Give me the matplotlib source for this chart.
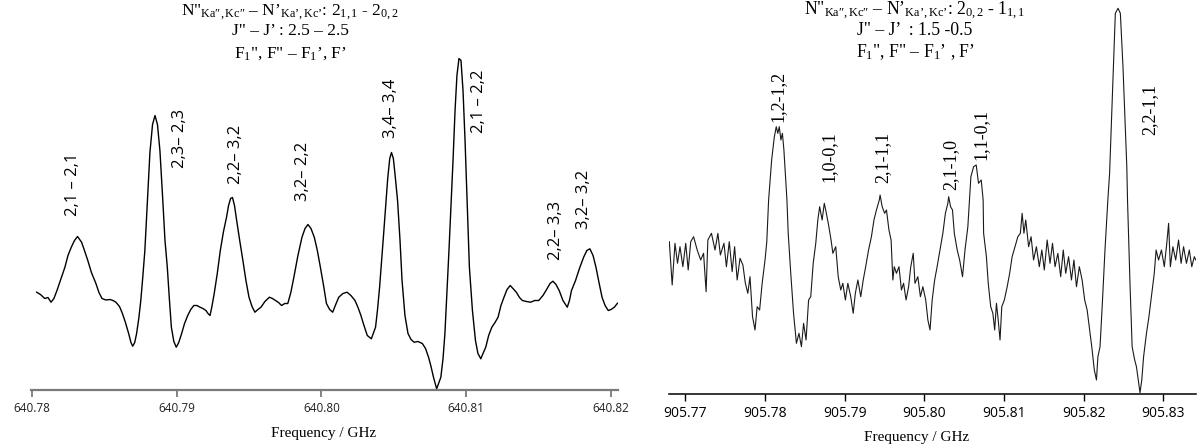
import matplotlib
matplotlib.use("Agg")
import matplotlib.pyplot as plt

plt.rcParams['mathtext.fontset'] = 'custom'
plt.rcParams['mathtext.rm'] = 'Liberation Serif'
plt.rcParams['mathtext.it'] = 'Liberation Serif:italic'
plt.rcParams['mathtext.bf'] = 'Liberation Serif:bold'

# ---------------- data: left spectrum (GHz, arbitrary intensity) ----------------
left_freq = [
    640.78034, 640.78060, 640.78090, 640.78112, 640.78133, 640.78153, 640.78174, 640.78202,
    640.78229, 640.78250, 640.78273, 640.78295, 640.78316, 640.78344, 640.78364, 640.78387,
    640.78412, 640.78443, 640.78464, 640.78485, 640.78512, 640.78540, 640.78561, 640.78581,
    640.78606, 640.78626, 640.78647, 640.78669, 640.78685, 640.78697, 640.78711, 640.78724,
    640.78739, 640.78753, 640.78767, 640.78781, 640.78799, 640.78816, 640.78834, 640.78851,
    640.78868, 640.78885, 640.78903, 640.78920, 640.78936, 640.78950, 640.78964, 640.78981,
    640.78998, 640.79015, 640.79035, 640.79055, 640.79077, 640.79098, 640.79119, 640.79141,
    640.79162, 640.79182, 640.79203, 640.79217, 640.79231, 640.79244, 640.79260, 640.79281,
    640.79302, 640.79324, 640.79345, 640.79359, 640.79373, 640.79386, 640.79400, 640.79415,
    640.79436, 640.79458, 640.79479, 640.79500, 640.79521, 640.79541, 640.79562, 640.79583,
    640.79610, 640.79641, 640.79662, 640.79683, 640.79704, 640.79725, 640.79747, 640.79768,
    640.79789, 640.79810, 640.79838, 640.79866, 640.79887, 640.79907, 640.79928, 640.79951,
    640.79972, 640.79993, 640.80015, 640.80035, 640.80057, 640.80078, 640.80099, 640.80120,
    640.80149, 640.80177, 640.80204, 640.80232, 640.80253, 640.80273, 640.80294, 640.80317,
    640.80345, 640.80374, 640.80387, 640.80402, 640.80416, 640.80430, 640.80444, 640.80458,
    640.80472, 640.80484, 640.80497, 640.80510, 640.80526, 640.80543, 640.80557, 640.80577,
    640.80598, 640.80619, 640.80640, 640.80667, 640.80697, 640.80719, 640.80740, 640.80757,
    640.80774, 640.80796, 640.80812, 640.80825, 640.80840, 640.80853, 640.80867, 640.80881,
    640.80895, 640.80909, 640.80923, 640.80936, 640.80950, 640.80964, 640.80978, 640.80992,
    640.81006, 640.81022, 640.81043, 640.81064, 640.81081, 640.81101, 640.81116, 640.81135,
    640.81155, 640.81177, 640.81199, 640.81220, 640.81240, 640.81261, 640.81282, 640.81304,
    640.81323, 640.81346, 640.81368, 640.81388, 640.81416, 640.81445, 640.81473, 640.81501,
    640.81530, 640.81558, 640.81579, 640.81599, 640.81620, 640.81642, 640.81668, 640.81698,
    640.81713, 640.81727, 640.81755, 640.81782, 640.81811, 640.81833, 640.81854, 640.81876,
    640.81896, 640.81917, 640.81938, 640.81959, 640.81981, 640.82000, 640.82023, 640.82045,
]
left_int = [
    97.3, 95, 91, 92, 87.3, 91, 99, 111,
    122.3, 134, 142.3, 149, 153, 147.3, 139, 129,
    117, 106, 97, 91, 89.5, 90, 89, 87.3,
    83, 76, 67, 56, 47, 43.3, 47, 56,
    71, 89, 113, 139, 189, 237, 265, 274,
    265, 239, 194, 149, 122.3, 91, 62.3, 48,
    42.3, 47, 56, 66, 74, 80, 84, 84,
    82.3, 81, 79, 76, 74, 83, 96, 116,
    139, 158, 172.3, 184, 191, 192, 184, 169,
    149, 129, 109, 92.3, 83, 77.3, 80, 82.3,
    88, 92.3, 91, 89, 87, 84, 86, 86,
    97, 112.3, 134, 152.3, 161, 165, 161, 152.3,
    139, 122.3, 104, 86, 80, 77.3, 85, 92.3,
    96, 97.3, 94, 89, 82, 74, 64, 54,
    50.7, 62.3, 79, 102.3, 129, 156, 184, 211,
    231, 237, 231, 213, 189, 149, 109, 74,
    56, 50, 47.3, 48, 46, 41, 32.3, 23,
    12.3, 0.7, 7, 12.3, 31, 56, 97, 139,
    184, 229, 279, 314, 331, 329, 299, 249,
    189, 122.3, 79, 49, 36, 30.7, 36, 42.3,
    54, 62.3, 67, 72.3, 84, 92.3, 100, 104,
    101, 97.3, 92, 89, 88, 87.3, 89, 89,
    94, 100.7, 106, 108.3, 105, 99, 89, 82.3,
    89, 99, 109, 121, 132.3, 139, 140.7, 134,
    122.3, 107, 92.3, 84, 79, 80, 82.3, 86.3,
]

# ---------------- data: right spectrum ----------------
right_freq = [
    905.76798, 905.76834, 905.76869, 905.76901, 905.76932, 905.76968, 905.77004, 905.77035,
    905.77067, 905.77103, 905.77148, 905.77192, 905.77228, 905.77260, 905.77282, 905.77327,
    905.77372, 905.77408, 905.77439, 905.77484, 905.77515, 905.77551, 905.77587, 905.77618,
    905.77650, 905.77686, 905.77722, 905.77753, 905.77784, 905.77811, 905.77843, 905.77874,
    905.77901, 905.77932, 905.77964, 905.78000, 905.78022, 905.78045,
    905.78083, 905.78117, 905.78141, 905.78160, 905.78179, 905.78199, 905.78218, 905.78237,
    905.78275, 905.78291, 905.78323, 905.78358, 905.78394, 905.78426, 905.78457, 905.78484,
    905.78515, 905.78547, 905.78574, 905.78605, 905.78637, 905.78663, 905.78686, 905.78717,
    905.78744, 905.78762, 905.78798, 905.78829, 905.78852, 905.78888, 905.78919, 905.78951,
    905.78977, 905.79009, 905.79040, 905.79076, 905.79107, 905.79134, 905.79166, 905.79202,
    905.79233, 905.79264, 905.79300, 905.79336, 905.79368, 905.79399, 905.79435, 905.79445,
    905.79471, 905.79502, 905.79525, 905.79556, 905.79583, 905.79605, 905.79623, 905.79650,
    905.79682, 905.79713, 905.79740, 905.79771, 905.79803, 905.79830, 905.79861, 905.79883,
    905.79919, 905.79951, 905.79982, 905.80018, 905.80045, 905.80072, 905.80099, 905.80130,
    905.80161, 905.80197, 905.80233, 905.80265, 905.80296, 905.80306, 905.80330, 905.80354,
    905.80377, 905.80413, 905.80444, 905.80480, 905.80511, 905.80547, 905.80585, 905.80619,
    905.80652, 905.80681, 905.80715, 905.80739, 905.80745, 905.80780, 905.80803, 905.80834,
    905.80861, 905.80884, 905.80906, 905.80928, 905.80951, 905.80973, 905.81005, 905.81041,
    905.81072, 905.81103, 905.81139, 905.81175, 905.81206, 905.81229, 905.81251, 905.81274,
    905.81310, 905.81341, 905.81372, 905.81408, 905.81444, 905.81476, 905.81507, 905.81543,
    905.81579, 905.81610, 905.81642, 905.81677, 905.81713, 905.81745, 905.81776, 905.81812,
    905.81848, 905.81879, 905.81911, 905.81947, 905.81982, 905.82014, 905.82045, 905.82072,
    905.82103, 905.82135, 905.82162, 905.82180, 905.82207, 905.82238, 905.82269, 905.82305,
    905.82327, 905.82375, 905.82399, 905.82433, 905.82462, 905.82495, 905.82543, 905.82552,
    905.82583, 905.82610, 905.82642, 905.82664, 905.82687, 905.82709, 905.82731, 905.82754,
    905.82790, 905.82821, 905.82852, 905.82888, 905.82911, 905.82942, 905.82978, 905.83014,
    905.83045, 905.83068, 905.83090, 905.83122, 905.83157, 905.83193, 905.83225, 905.83256,
    905.83292, 905.83328, 905.83359, 905.83391, 905.83410,
]
right_int = [
    152.3, 109, 150.7, 130.7, 147.3, 127.3, 150.7, 124,
    152.3, 157.3, 144, 134, 140.7, 102.3, 154, 160.7,
    144, 160.7, 139, 150.7, 127.3, 152.3, 122.3, 147.3,
    114, 135.7, 129, 110.7, 100.7, 117.3, 77.3, 64,
    87.3, 84, 110.7, 134, 152.3, 194,
    234, 257.3, 267.3, 260.7, 267.3, 254, 260.7, 244,
    194, 160.7, 120.7, 80.7, 50.7, 60.7, 47.3, 70.7,
    54, 94, 97.3, 130.7, 150.7, 174, 187.3, 174,
    190.7, 184, 169, 154, 140.7, 147.3, 117.3, 104,
    110.7, 94, 110.7, 97.3, 80.7, 100.7, 114, 97.3,
    114, 127.3, 144, 157.3, 174, 184, 194, 199,
    187.3, 180.7, 184, 164, 154, 114, 127.3, 120.7,
    127.3, 104, 110.7, 94, 107.3, 127.3, 140.7, 110.7,
    117.3, 97.3, 107.3, 94, 74, 64, 94, 114,
    127.3, 144, 160.7, 180.7, 190.7, 197.3, 187.3, 184,
    160.7, 144, 134, 117.3, 144, 167.3, 217.3, 227.3,
    229, 210.7, 214, 194, 160.7, 137.3, 110.7, 87.3,
    80.7, 64, 90.7, 74, 54, 87.3, 94, 107.3,
    120.7, 137.3, 147.3, 157.3, 160.7, 180.7, 160.7, 174,
    147.3, 157.3, 134, 147.3, 127.3, 144, 124, 154,
    130.7, 150.7, 127.3, 140.7, 117.3, 144, 120.7, 137.3,
    114, 134, 107.3, 127.3, 114, 94, 84, 67.3,
    47.3, 24, 14, 37.3, 47.3, 94, 144, 194,
    220.7, 327.3, 380.7, 385.7, 380.7, 327.3, 227.3, 194,
    110.7, 47.3, 34, 27.3, 14, 1.3, 14, 37.3,
    60.7, 77.3, 97.3, 120.7, 144, 134, 144, 127.3,
    150.7, 170.7, 127.3, 147.3, 134, 154, 130.7, 147.3,
    130.7, 144, 127.3, 137.3, 134,
]

# ---------------- labels ----------------
left_ticks = [640.78, 640.79, 640.80, 640.81, 640.82]
left_ticklabels = ["640.78", "640.79", "640.80", "640.81", "640.82"]
right_ticks = [905.77, 905.78, 905.79, 905.80, 905.81, 905.82, 905.83]
right_ticklabels = ["905.77", "905.78", "905.79", "905.80", "905.81", "905.82", "905.83"]

left_peak_labels = ["2,1 \u2013 2,1", "2,3\u2013 2,3", "2,2\u2013 3,2", "3,2\u2013 2,2",
                    "3,4\u2013 3,4", "2,1 \u2013 2,2", "2,2\u2013 3,3", "3,2\u2013 3,2"]
left_label_freq = [640.78285, 640.79023, 640.79410, 640.79873,
                   640.80481, 640.81088, 640.81620, 640.81814]
left_label_int = [174, 222, 206, 189, 251, 257, 129, 161]

right_peak_labels = ["1,2-1,2", "1,0-0,1", "2,1-1,1", "2,1-1,0", "1,1-0,1", "2,2-1,1"]
right_label_freq = [905.78163, 905.78803, 905.79482, 905.80335, 905.80712, 905.82834]
right_label_int = [272, 212, 211, 204, 234, 259]

DP = "\u2033"   # double prime (inside math)
SQ = "\u2019"   # single quote mark
left_title = ['N"$_{\\rm Ka' + DP + ',Kc' + DP + '}$ \u2013 N' + SQ
              + '$_{\\rm Ka' + SQ + ',Kc' + SQ + '}$: 2$_{1,1}$ - 2$_{0,2}$',
              'J" \u2013 J' + SQ + ' : 2.5 \u2013 2.5',
              'F$_1$", F" \u2013 F$_1$' + SQ + ', F' + SQ]
right_title = ['N"$_{\\rm Ka' + DP + ',Kc' + DP + '}$ \u2013 N' + SQ
               + '$_{\\rm Ka' + SQ + ',Kc' + SQ + '}$: 2$_{0,2}$ - 1$_{1,1}$',
               'J" \u2013 J' + SQ + '  : 1.5 -0.5',
               'F$_1$", F" \u2013 F$_1$' + SQ + ' , F' + SQ]
xlabel_text = "Frequency / GHz"

# ---------------- figure ----------------
W, H = 1200, 446
fig = plt.figure(figsize=(W / 100, H / 100), dpi=100)

def px_axes(x0, y_axis, w, h_top=0):
    return fig.add_axes([x0 / W, (H - y_axis) / H, w / W, (y_axis - h_top) / H])

axL = px_axes(30.6, 389.5, 587.8)
axR = px_axes(668.6, 394, 527.4)

axL.plot(left_freq, left_int, color='black', lw=1.0)
axL.set_xlim(640.77992, 640.82051)
axL.set_ylim(0, 389.5)

axR.plot(right_freq, right_int, color='#1a1a1a', lw=0.8)
axR.set_xlim(905.76789, 905.83412)
axR.set_ylim(0, 394)

for ax in (axL, axR):
    ax.patch.set_alpha(0)
    for s in ('left', 'right', 'top'):
        ax.spines[s].set_visible(False)
    ax.set_yticks([])

axL.spines['bottom'].set_color('#7a7a7a')
axL.spines['bottom'].set_linewidth(1.6)
axL.set_xticks(left_ticks)
axL.set_xticklabels(left_ticklabels, fontfamily='Open Sans', fontsize=8.5, color='#222222')
axL.tick_params(axis='x', length=4.8, width=1.3, color='#7a7a7a', pad=4.5)

axR.spines['bottom'].set_color('black')
axR.spines['bottom'].set_linewidth(1.1)
axR.set_xticks(right_ticks)
axR.set_xticklabels(right_ticklabels, fontfamily='Open Sans', fontsize=10, color='black')
axR.tick_params(axis='x', length=5.2, width=1.0, color='black', pad=3.6)

for lab, f, i in zip(left_peak_labels, left_label_freq, left_label_int):
    axL.text(f, i, lab, rotation=90, ha='center', va='bottom',
             fontfamily='Open Sans', fontsize=12, color='black')

for lab, f, i in zip(right_peak_labels, right_label_freq, right_label_int):
    axR.text(f, i, lab, rotation=90, ha='center', va='bottom',
             fontfamily='Liberation Serif', fontsize=13, color='black')

def ftext(xp, yp, s, **kw):
    fig.text(xp / W, 1 - yp / H, s, **kw)

for line, yb in zip(left_title, [15.5, 35, 57.5]):
    ftext(290, yb, line, ha='center', va='baseline', fontfamily='Liberation Serif', fontsize=12.5)
for line, yb in zip(right_title, [15.5, 35, 57.5]):
    ftext(915, yb, line, ha='center', va='baseline', fontfamily='Liberation Serif', fontsize=12.7)

ftext(324, 433, xlabel_text, ha='center', va='center', fontfamily='Liberation Serif', fontsize=11)
ftext(917, 438, xlabel_text, ha='center', va='center', fontfamily='Liberation Serif', fontsize=11)

fig.savefig("out.png", dpi=100)
